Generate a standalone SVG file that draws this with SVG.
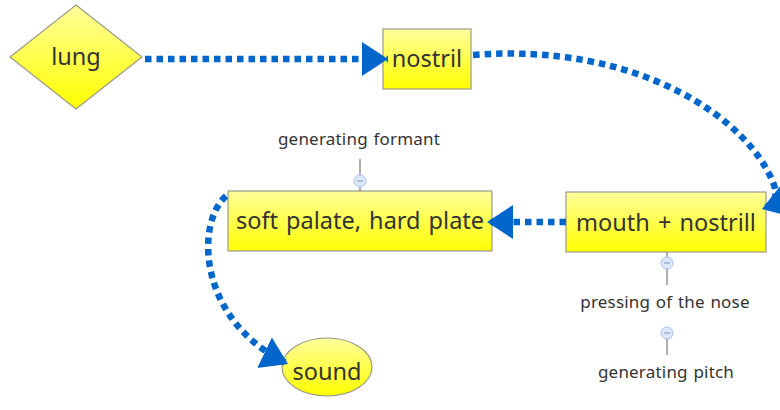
<svg xmlns="http://www.w3.org/2000/svg" width="780" height="410" viewBox="0 0 780 410">
<style>
.node{stroke:#9a9a8a;stroke-width:1.2;fill:url(#yg)}
.t{font-family:"Noto Sans","Open Sans",sans-serif;font-size:23.5px;fill:#333;text-anchor:middle;word-spacing:2px}
.s{font-family:"Noto Sans","Open Sans",sans-serif;font-size:17px;fill:#333;text-anchor:middle;letter-spacing:0.2px;word-spacing:1px}
.c{fill:none;stroke:#0066cc;stroke-width:6.5;stroke-dasharray:6.5 5}
.ln{stroke:#777;stroke-width:1.2}
.knob{fill:#dce8f8;stroke:#a9c2e8;stroke-width:1}
.minus{stroke:#7a93c0;stroke-width:1}
</style>
<defs>
<linearGradient id="yg" x1="0" y1="0" x2="0" y2="1">
<stop offset="0" stop-color="#ffff9c"/>
<stop offset="1" stop-color="#ffff00"/>
</linearGradient>
<marker id="ah" markerUnits="userSpaceOnUse" markerWidth="28" markerHeight="36" refX="26" refY="17" orient="auto" viewBox="0 0 28 36">
<path d="M0,0 L26,17 L0,34 Z" fill="#0066cc"/>
</marker>
</defs>

<g id="lung">
<path class="node" d="M76,5 L142,57 L76,109 L10,57 Z"/>
<text class="t" x="76" y="65">lung</text>
</g>
<g id="nostril">
<rect class="node" x="383" y="29" width="88" height="60"/>
<text class="t" x="427" y="67">nostril</text>
</g>
<g id="mouth">
<rect class="node" x="566" y="192" width="200" height="60"/>
<text class="t" x="666" y="231">mouth + nostrill</text>
</g>
<g id="palate">
<rect class="node" x="228" y="191" width="264" height="60"/>
<text class="t" x="360" y="229">soft palate, hard plate</text>
</g>
<g id="sound">
<ellipse class="node" cx="327" cy="367" rx="45" ry="29"/>
<text class="t" x="327" y="380">sound</text>
</g>

<g id="formant">
<text class="s" x="359" y="145">generating formant</text>
<line class="ln" x1="360" y1="159" x2="360" y2="175"/>
<line class="ln" x1="360" y1="187" x2="360" y2="191"/>
<circle class="knob" cx="360" cy="181" r="6"/>
<line class="minus" x1="357" y1="181" x2="363" y2="181"/>
</g>
<g id="pressing">
<line class="ln" x1="667" y1="252" x2="667" y2="257"/>
<circle class="knob" cx="667" cy="263" r="6"/>
<line class="minus" x1="664" y1="263" x2="670" y2="263"/>
<line class="ln" x1="667" y1="269" x2="667" y2="285"/>
<text class="s" x="665" y="308">pressing of the nose</text>
</g>
<g id="pitch">
<circle class="knob" cx="667" cy="333" r="6"/>
<line class="minus" x1="664" y1="333" x2="670" y2="333"/>
<line class="ln" x1="667" y1="339" x2="667" y2="355"/>
<text class="s" x="666" y="378">generating pitch</text>
</g>

<g id="connectors">
<path class="c" d="M145,59 L388,59" marker-end="url(#ah)"/>
<path class="c" d="M473,55 C640,42 750,120 774,185 Q780,203 762,209" marker-end="url(#ah)"/>
<path class="c" d="M566,222 L487,222" marker-end="url(#ah)"/>
<path class="c" d="M226,196 C196,222 196,320 288,364" marker-end="url(#ah)"/>
</g>
</svg>
